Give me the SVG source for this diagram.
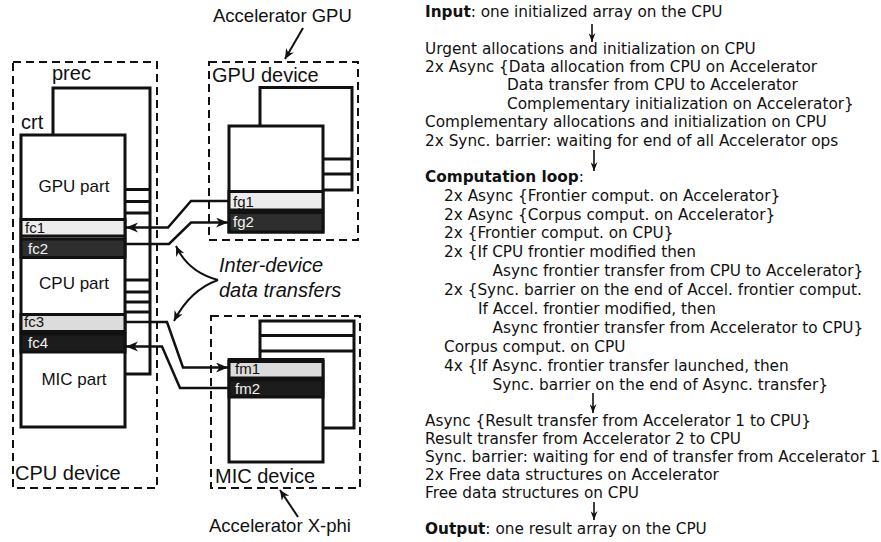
<svg xmlns="http://www.w3.org/2000/svg" width="881" height="542" viewBox="0 0 881 542">
<style>
  .lbl { font-family: "Liberation Sans", Arial, sans-serif; fill: #111; }
  .dev { font-size: 20px; }
  .acc { font-size: 18.5px; }
  .part { font-size: 17px; text-anchor: middle; }
  .band { font-size: 15px; }
  .dash { fill: none; stroke: #111; stroke-width: 2; stroke-dasharray: 8 5; }
  .box { fill: #fff; stroke: #111; stroke-width: 3; }
  .str { stroke: #111; stroke-width: 3; fill: none; }
  .light { fill: #ececec; stroke: #111; stroke-width: 3; }
  .dark { fill: #2e2e2e; stroke: #111; stroke-width: 3; }
  .darker { fill: #1c1c1c; stroke: #111; stroke-width: 3; }
  .lightb { fill: #dcdcdc; stroke: #111; stroke-width: 3; }
  .wt { fill: #f2f2f2; }
  .con { fill: none; stroke: #111; stroke-width: 2.5; }
  .thin { fill: none; stroke: #111; stroke-width: 2; }
  .tarr { fill: none; stroke: #111; stroke-width: 1.6; }
  .txt { font-family: "DejaVu Sans", Verdana, sans-serif; font-size: 15.3px; fill: #111; }
  .b { font-weight: bold; }
  .it { font-style: italic; }
</style>
<defs>
  <marker id="ah" markerUnits="userSpaceOnUse" markerWidth="13" markerHeight="11" refX="12" refY="5" orient="auto">
    <path d="M0,0 L12,5 L0,10 L3.5,5 z" fill="#111"/>
  </marker>
  <marker id="ahs" markerUnits="userSpaceOnUse" markerWidth="11" markerHeight="10" refX="10" refY="4.5" orient="auto">
    <path d="M0,0 L10,4.5 L0,9 L3,4.5 z" fill="#111"/>
  </marker>
  <marker id="ta" markerUnits="userSpaceOnUse" markerWidth="8" markerHeight="10" refX="3.5" refY="9" orient="0">
    <path d="M0,0 L3.5,3 L7,0 L3.5,9 z" fill="#111"/>
  </marker>
</defs>

<!-- CPU device -->
<g id="cpu-device">
  <rect class="dash" x="13" y="62" width="144" height="426"/>
  <text class="lbl dev" x="15" y="480">CPU device</text>
  <text class="lbl dev" x="52" y="80">prec</text>
  <text class="lbl dev" x="21" y="129">crt</text>
</g>
<g id="prec">
  <rect class="box" x="53" y="88" width="97" height="286"/>
  <line class="str" x1="53" y1="189.5" x2="150" y2="189.5"/>
  <line class="str" x1="53" y1="201.5" x2="150" y2="201.5"/>
  <line class="str" x1="53" y1="213" x2="150" y2="213"/>
  <line class="str" x1="53" y1="280" x2="150" y2="280"/>
  <line class="str" x1="53" y1="292" x2="150" y2="292"/>
  <line class="str" x1="53" y1="302" x2="150" y2="302"/>
  <line class="str" x1="53" y1="312" x2="150" y2="312"/>
</g>
<g id="crt">
  <rect class="box" x="21" y="135" width="104" height="292"/>
  <text class="lbl part" x="74" y="192">GPU part</text>
  <text class="lbl part" x="74" y="289">CPU part</text>
  <text class="lbl part" x="74" y="385">MIC part</text>
</g>
<g id="fc1">
  <rect class="light" x="21" y="219.5" width="104" height="16.5"/>
  <text class="lbl band" x="25" y="232.5">fc1</text>
</g>
<g id="fc2">
  <rect class="dark" x="21" y="239" width="104" height="18.5"/>
  <text class="lbl band wt" x="28" y="254">fc2</text>
</g>
<g id="fc3">
  <rect class="lightb" x="21" y="314.5" width="104" height="17"/>
  <text class="lbl band" x="24" y="327">fc3</text>
</g>
<g id="fc4">
  <rect class="darker" x="21" y="334" width="104" height="18"/>
  <text class="lbl band wt" x="28" y="347.5">fc4</text>
</g>

<!-- GPU device -->
<g id="gpu-device">
  <rect class="dash" x="209" y="62" width="149" height="178"/>
  <text class="lbl dev" x="212" y="82">GPU device</text>
  <rect class="box" x="260" y="87.5" width="92" height="102.5"/>
  <line class="str" x1="260" y1="159" x2="352" y2="159"/>
  <line class="str" x1="260" y1="174" x2="352" y2="174"/>
  <rect class="box" x="229" y="126" width="94" height="106"/>
</g>
<g id="fg1">
  <rect class="light" x="229" y="191.5" width="94" height="18.5"/>
  <text class="lbl band" x="233" y="206.5">fg1</text>
</g>
<g id="fg2">
  <rect class="dark" x="229" y="212.5" width="94" height="19.5"/>
  <text class="lbl band wt" x="233" y="227">fg2</text>
</g>
<g id="acc-gpu">
  <text class="lbl acc" x="213" y="22">Accelerator GPU</text>
</g>

<!-- MIC device -->
<g id="mic-device">
  <rect class="dash" x="211" y="316" width="149" height="172"/>
  <text class="lbl dev" x="215" y="483">MIC device</text>
  <rect class="box" x="260" y="321" width="94" height="107"/>
  <line class="str" x1="260" y1="335.5" x2="354" y2="335.5"/>
  <line class="str" x1="260" y1="351" x2="354" y2="351"/>
  <rect class="box" x="229" y="359.5" width="94" height="102.5"/>
</g>
<g id="fm1">
  <rect class="lightb" x="229" y="361.5" width="94" height="16.5"/>
  <text class="lbl band" x="235" y="374">fm1</text>
</g>
<g id="fm2">
  <rect class="darker" x="229" y="380" width="94" height="17"/>
  <text class="lbl band wt" x="235" y="393.5">fm2</text>
</g>
<g id="acc-mic">
  <text class="lbl acc" x="209" y="532">Accelerator X-phi</text>
</g>
<g id="inter-label">
  <text class="lbl dev it" x="219" y="272">Inter-device</text>
  <text class="lbl dev it" x="219" y="296.5">data transfers</text>
</g>

<!-- connectors -->
<g id="connectors">
  <path class="con" d="M229,201 L191,201 L168,227.5 L126,227.5" marker-end="url(#ah)"/>
  <path class="con" d="M125,244 L169,244 L191,222.5 L228,222.5" marker-end="url(#ah)"/>
  <path class="con" d="M125,322 L167,322 L183,367.5 L228,367.5" marker-end="url(#ah)"/>
  <path class="con" d="M229,388 L180,388 L162,346.5 L126,346.5" marker-end="url(#ah)"/>
  <path class="thin" d="M218,280 Q188,272 176,246" marker-end="url(#ahs)"/>
  <path class="thin" d="M218,280 Q190,290 174,321" marker-end="url(#ahs)"/>
  <path class="thin" d="M303,28 L285,59" marker-end="url(#ahs)"/>
  <path class="thin" d="M298,517 L280,490" marker-end="url(#ahs)"/>
  <line class="tarr" x1="592" y1="24" x2="592" y2="42" marker-end="url(#ta)"/>
  <line class="tarr" x1="594" y1="150" x2="594" y2="171" marker-end="url(#ta)"/>
  <line class="tarr" x1="593" y1="393" x2="593" y2="413" marker-end="url(#ta)"/>
  <line class="tarr" x1="594" y1="502" x2="594" y2="520" marker-end="url(#ta)"/>
</g>

<!-- algorithm text -->
<g id="algorithm" class="txt">
  <text x="425" y="17"><tspan class="b">Input</tspan>: one initialized array on the CPU</text>
  <text x="425" y="53.5">Urgent allocations and initialization on CPU</text>
  <text x="425" y="71.9">2x Async {Data allocation from CPU on Accelerator</text>
  <text x="507" y="90.3">Data transfer from CPU to Accelerator</text>
  <text x="507" y="108.7">Complementary initialization on Accelerator}</text>
  <text x="425" y="127.3">Complementary allocations and initialization on CPU</text>
  <text x="425" y="145.8">2x Sync. barrier: waiting for end of all Accelerator ops</text>
  <text x="425" y="181.5"><tspan class="b">Computation loop</tspan>:</text>
  <text x="444" y="200.5">2x Async {Frontier comput. on Accelerator}</text>
  <text x="444" y="219.5">2x Async {Corpus comput. on Accelerator}</text>
  <text x="444" y="238.3">2x {Frontier comput. on CPU}</text>
  <text x="444" y="257.2">2x {If CPU frontier modified then</text>
  <text x="492.5" y="276.2">Async frontier transfer from CPU to Accelerator}</text>
  <text x="444" y="295.2">2x {Sync. barrier on the end of Accel. frontier comput.</text>
  <text x="478" y="314.2">If Accel. frontier modified, then</text>
  <text x="492.5" y="333.2">Async frontier transfer from Accelerator to CPU}</text>
  <text x="444" y="352.3">Corpus comput. on CPU</text>
  <text x="444" y="371.3">4x {If Async. frontier transfer launched, then</text>
  <text x="492.5" y="390">Sync. barrier on the end of Async. transfer}</text>
  <text x="425" y="425.5">Async {Result transfer from Accelerator 1 to CPU}</text>
  <text x="425" y="443.7">Result transfer from Accelerator 2 to CPU</text>
  <text x="425" y="461.9">Sync. barrier: waiting for end of transfer from Accelerator 1</text>
  <text x="425" y="480.1">2x Free data structures on Accelerator</text>
  <text x="425" y="498.3">Free data structures on CPU</text>
  <text x="425" y="533.5"><tspan class="b">Output</tspan>: one result array on the CPU</text>
</g>
</svg>
